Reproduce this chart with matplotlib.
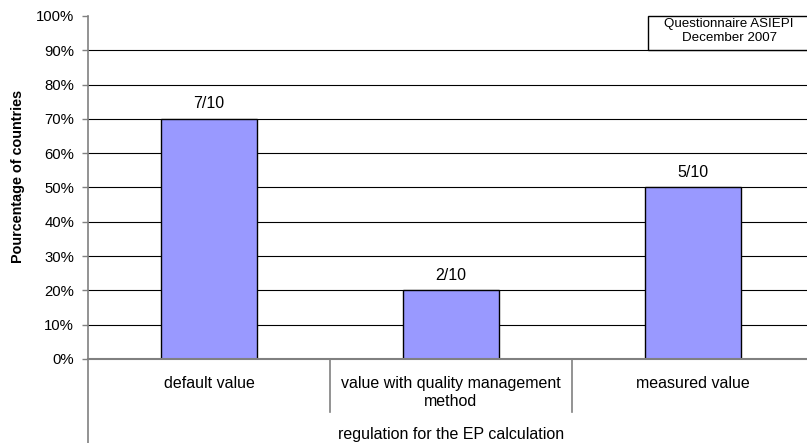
import matplotlib.pyplot as plt
import matplotlib.transforms as mtransforms
from matplotlib.patches import Rectangle

plt.rcParams["font.family"] = ["Liberation Sans", "DejaVu Sans"]

categories = ["default value", "value with quality management\nmethod", "measured value"]
values = [70, 20, 50]
value_labels = ["7/10", "2/10", "5/10"]
y_ticks = list(range(0, 101, 10))
y_tick_labels = ["%d%%" % t for t in y_ticks]
axis_title = "regulation for the EP calculation"
y_title = "Pourcentage of countries"
note = "Questionnaire ASIEPI\nDecember 2007"

W, H = 807, 443
fig = plt.figure(figsize=(W / 100, H / 100), dpi=100)
ax = fig.add_axes([88 / W, (H - 359) / H, (814 - 88) / W, 343 / H])

x = list(range(len(categories)))
ax.bar(x, values, width=0.4, color="#9999FF", edgecolor="black", linewidth=1, zorder=3)

ax.set_xlim(-0.5, len(categories) - 0.5)
ax.set_ylim(0, 100)
ax.set_yticks(y_ticks)
ax.set_yticklabels(y_tick_labels, fontsize=10.7)
ax.tick_params(axis="y", length=4, width=1, color="#808080", pad=6)
ax.set_xticks([])

for t in y_ticks[1:-1]:
    ax.axhline(t, color="black", linewidth=0.8, zorder=1)

for s in ["top", "right"]:
    ax.spines[s].set_visible(False)
ax.spines["left"].set_color("#808080")
ax.spines["left"].set_linewidth(1.2)
ax.spines["bottom"].set_color("#808080")
ax.spines["bottom"].set_linewidth(1.5)
ax.spines["bottom"].set_zorder(4)

# value labels above bars
for xi, v, lab in zip(x, values, value_labels):
    ax.annotate(lab, (xi, v), xytext=(0, 11), textcoords="offset points",
                ha="center", va="center", fontsize=11.5)

# category labels and separators under the axis
trans = mtransforms.blended_transform_factory(ax.transData, ax.transAxes)
for xi, cat in zip(x, categories):
    ax.annotate(cat, (xi, 0), xycoords=trans, xytext=(0, -12.5), textcoords="offset points",
                ha="center", va="top", fontsize=11.5, linespacing=1.25)
for b in [0.5, 1.5, 2.5]:
    ax.plot([b, b], [0, -53 / 343], transform=trans, color="#808080",
            linewidth=1.2, clip_on=False)
ax.plot([-0.5, -0.5], [0, -0.3], transform=trans, color="#808080",
        linewidth=1.2, clip_on=False)

fig.text(451 / W, 1 - 434 / H, axis_title, ha="center", va="center", fontsize=11.5)
fig.text(18 / W, 1 - 176 / H, y_title, ha="center", va="center", rotation=90,
         fontsize=10.4, fontweight="bold")

# note box
fig.patches.append(Rectangle((648 / W, 1 - 50 / H), (812 - 648) / W, 34 / H,
                             transform=fig.transFigure, facecolor="white",
                             edgecolor="black", linewidth=1, zorder=5))
fig.text(729 / W, 1 - 31 / H, note, ha="center", va="center", fontsize=9.6,
         linespacing=1.3, zorder=6)

fig.savefig("out.png", dpi=100)
